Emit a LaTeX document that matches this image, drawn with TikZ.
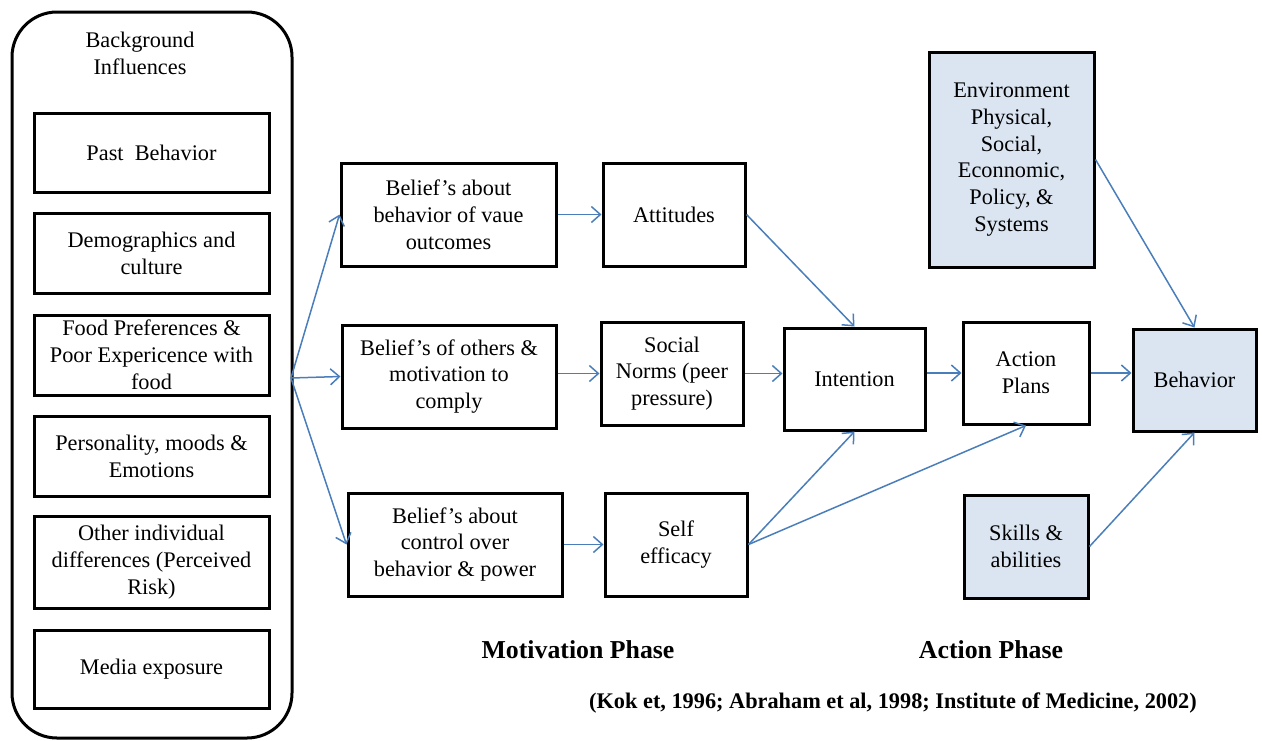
\documentclass[tikz,border=0pt]{standalone}
\usepackage{fontspec}
\setmainfont{Liberation Serif}
\usetikzlibrary{arrows.meta}
\definecolor{linkblue}{HTML}{4A7EBB}
\definecolor{shade}{HTML}{DBE5F1}
\begin{document}
\begin{tikzpicture}[x=1pt,y=-1pt,
  every node/.style={font=\fontsize{22.3}{26.8}\selectfont, align=center, inner sep=0pt},
  box/.style={draw=black, line width=3pt, rectangle},
  shaded/.style={box, fill=shade},
  link/.style={draw=linkblue, line width=1.5pt, -{Straight Barb[length=9pt,width=16pt,line width=1.5pt]}},
  phase/.style={font=\fontsize{25.8}{30}\selectfont\bfseries},
  cite/.style={font=\fontsize{22.3}{26.8}\selectfont\bfseries}]
\useasboundingbox (0,0) rectangle (1262,740);

% background influences panel
\draw[line width=3pt, rounded corners=45pt] (12,12) rectangle (292,738);
\node (bgtitle) at (140,53) {Background\\Influences};
\node[box, minimum width=235pt, minimum height=79pt] (past) at (151.5,152.5) {Past\ \ Behavior};
\node[box, minimum width=235pt, minimum height=80pt] (demo) at (151.5,253) {Demographics and\\culture};
\node[box, minimum width=235pt, minimum height=80pt] (food) at (151.5,355) {Food Preferences \&\\Poor Expericence with\\food};
\node[box, minimum width=235pt, minimum height=80pt] (pers) at (151.5,456) {Personality, moods \&\\Emotions};
\node[box, minimum width=235pt, minimum height=92pt] (other) at (151.5,562) {Other individual\\differences (Perceived\\Risk)};
\node[box, minimum width=235pt, minimum height=78pt] (media) at (151.5,669) {Media exposure};
\coordinate (src) at (291,378);

% motivation phase
\node[box, minimum width=215pt, minimum height=103pt] (b1) at (448.5,214.5) {Belief’s about\\behavior of vaue\\outcomes};
\node[box, minimum width=214pt, minimum height=103pt] (b2) at (449,376.5) {Belief’s of others \&\\motivation to\\comply};
\node[box, minimum width=214pt, minimum height=103pt] (b3) at (455,544.5) {Belief’s about\\control over\\behavior \& power};
\node[box, minimum width=142pt, minimum height=103pt] (att) at (674,214.5) {Attitudes};
\node[box, minimum width=142pt, minimum height=103pt] (sn) at (672,373.5) {Social\\Norms (peer\\pressure)};
\node[box, minimum width=142pt, minimum height=103pt] (se) at (676,544.5) {Self\\efficacy};

% action phase
\node[box, minimum width=141pt, minimum height=102pt] (int) at (854.5,379) {Intention};
\node[box, minimum width=126pt, minimum height=102pt] (ap) at (1026,373) {Action\\Plans};
\node[shaded, minimum width=123pt, minimum height=102pt] (beh) at (1194.5,380) {Behavior};
\node[shaded, minimum width=165pt, minimum height=215pt] (env) at (1011.5,159.5) {Environment\\Physical,\\Social,\\Econnomic,\\Policy, \&\\Systems};
\node[shaded, minimum width=124pt, minimum height=103pt] (skill) at (1026,546.5) {Skills \&\\abilities};

% connectors
\draw[link] (src) -- (b1.west);
\draw[link] (src) -- (b2.west);
\draw[link] (src) -- (b3.west);
\draw[link] (b1.east) -- (att.west);
\draw[link] (b2.east |- sn.west) -- (sn.west);
\draw[link] (b3.east) -- (se.west);
\draw[link] (att.east) -- (int.north);
\draw[link] (sn.east) -- (sn.east -| int.west);
\draw[link] (se.east) -- (int.south);
\draw[link] (se.east) -- (ap.south);
\draw[link] (int.east |- ap.west) -- (ap.west);
\draw[link] (ap.east) -- (ap.east -| beh.west);
\draw[link] (env.east) -- (beh.north);
\draw[link] (skill.east) -- (beh.south);

% captions
\node[phase] (mot) at (578,650) {Motivation Phase};
\node[phase] (act) at (991,650) {Action Phase};
\node[cite] (ref) at (893,703) {(Kok et, 1996; Abraham et al, 1998; Institute of Medicine, 2002)};
\end{tikzpicture}
\end{document}
